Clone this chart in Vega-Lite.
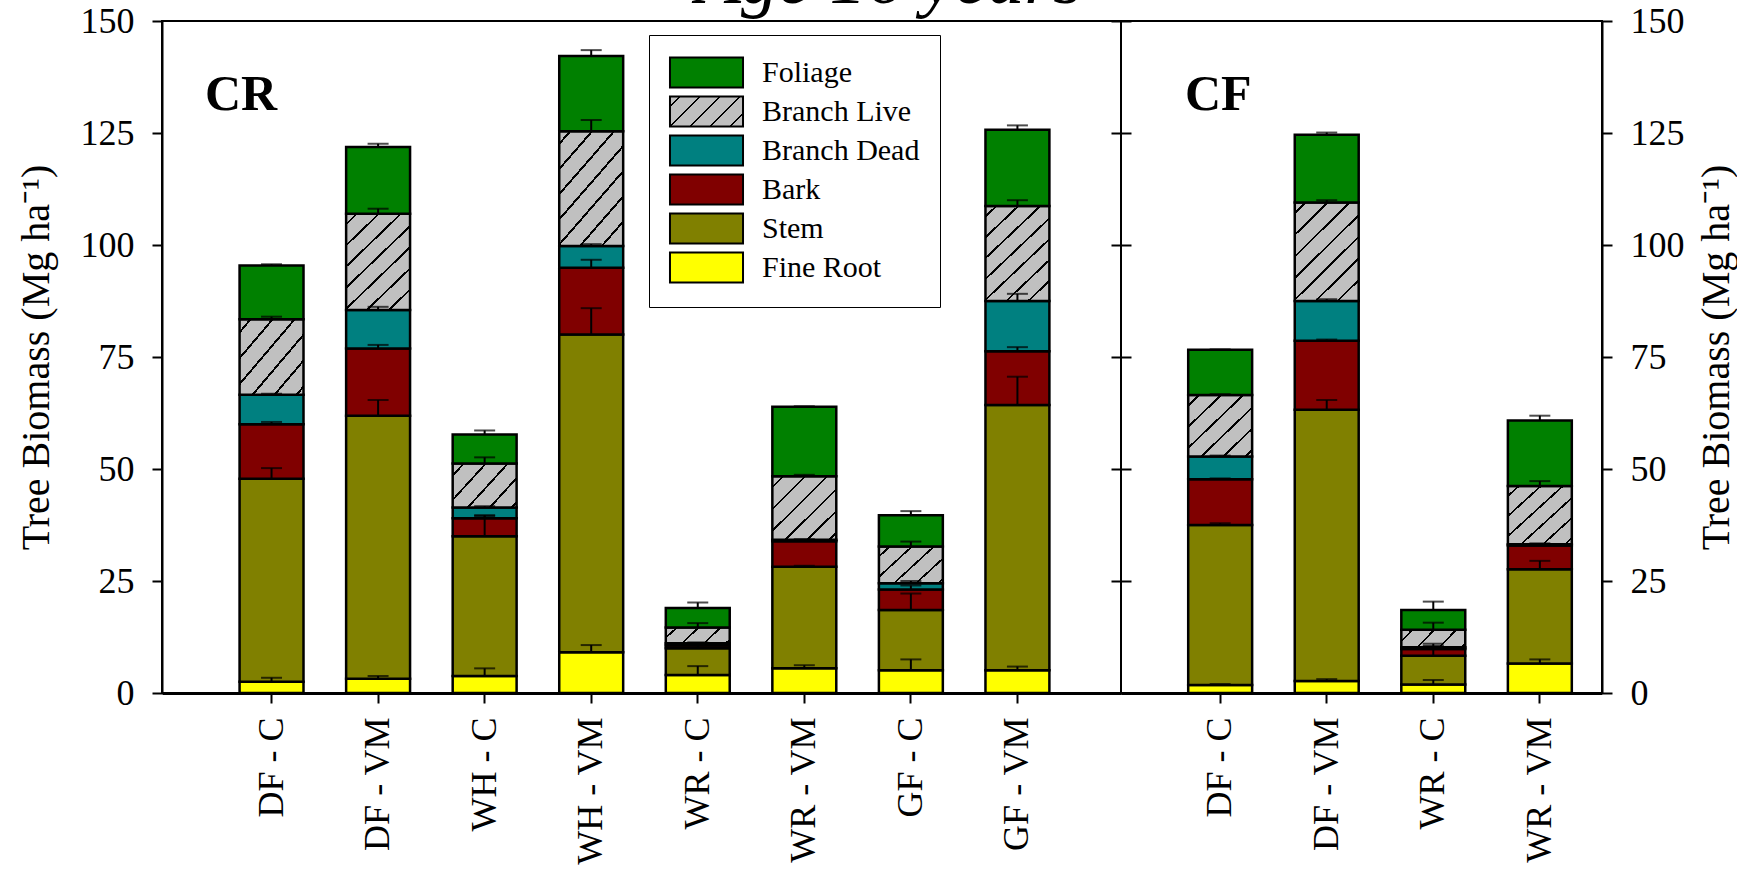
{
  "$schema": "https://vega.github.io/schema/vega-lite/v6.json",
  "padding": {"left": 15, "top": -56, "right": 0, "bottom": 0},
  "background": "white",
  "bounds": "flush",
  "spacing": 0,
  "title": {"text": "Age 16 years", "font": "Liberation Serif", "fontSize": 74, "fontStyle": "italic", "fontWeight": "normal", "color": "black", "anchor": "middle", "baseline": "alphabetic", "offset": -75, "dx": 13},
  "config": {
    "view": {"stroke": "black", "strokeWidth": 2},
    "axis": {"labelFont": "Liberation Serif", "titleFont": "Liberation Serif", "labelFontSize": 36, "titleFontSize": 40, "titleFontWeight": "normal", "labelColor": "black", "titleColor": "black", "tickColor": "black", "domainColor": "black", "tickWidth": 2, "domainWidth": 2, "tickSize": 10, "grid": false},
    "title": {"font": "Liberation Serif", "color": "black"}
  },
  "datasets": {
    "cr": [
      {"g": "DF - C", "part": "Fine Root", "lo": 0, "hi": 2.5, "err": 3.4},
      {"g": "DF - C", "part": "Stem", "lo": 2.5, "hi": 47.8, "err": 50.2},
      {"g": "DF - C", "part": "Bark", "lo": 47.8, "hi": 60.0, "err": 60.5},
      {"g": "DF - C", "part": "Branch Dead", "lo": 60.0, "hi": 66.6, "err": 66.8},
      {"g": "DF - C", "part": "Branch Live", "lo": 66.6, "hi": 83.4, "err": 84.0},
      {"g": "DF - C", "part": "Foliage", "lo": 83.4, "hi": 95.4, "err": 95.7},
      {"g": "DF - VM", "part": "Fine Root", "lo": 0, "hi": 3.2, "err": 3.8},
      {"g": "DF - VM", "part": "Stem", "lo": 3.2, "hi": 61.9, "err": 65.4},
      {"g": "DF - VM", "part": "Bark", "lo": 61.9, "hi": 76.9, "err": 77.7},
      {"g": "DF - VM", "part": "Branch Dead", "lo": 76.9, "hi": 85.5, "err": 86.2},
      {"g": "DF - VM", "part": "Branch Live", "lo": 85.5, "hi": 107.0, "err": 108.1},
      {"g": "DF - VM", "part": "Foliage", "lo": 107.0, "hi": 121.9, "err": 122.6},
      {"g": "WH - C", "part": "Fine Root", "lo": 0, "hi": 3.8, "err": 5.5},
      {"g": "WH - C", "part": "Stem", "lo": 3.8, "hi": 35.0, "err": 39.5},
      {"g": "WH - C", "part": "Bark", "lo": 35.0, "hi": 39.0, "err": 39.7},
      {"g": "WH - C", "part": "Branch Dead", "lo": 39.0, "hi": 41.4, "err": 41.7},
      {"g": "WH - C", "part": "Branch Live", "lo": 41.4, "hi": 51.2, "err": 52.6},
      {"g": "WH - C", "part": "Foliage", "lo": 51.2, "hi": 57.7, "err": 58.6},
      {"g": "WH - VM", "part": "Fine Root", "lo": 0, "hi": 9.1, "err": 10.7},
      {"g": "WH - VM", "part": "Stem", "lo": 9.1, "hi": 80.0, "err": 85.9},
      {"g": "WH - VM", "part": "Bark", "lo": 80.0, "hi": 94.9, "err": 96.7},
      {"g": "WH - VM", "part": "Branch Dead", "lo": 94.9, "hi": 99.8, "err": 100.2},
      {"g": "WH - VM", "part": "Branch Live", "lo": 99.8, "hi": 125.4, "err": 127.9},
      {"g": "WH - VM", "part": "Foliage", "lo": 125.4, "hi": 142.2, "err": 143.5},
      {"g": "WR - C", "part": "Fine Root", "lo": 0, "hi": 4.0, "err": 6.0},
      {"g": "WR - C", "part": "Stem", "lo": 4.0, "hi": 10.0, "err": 11.0},
      {"g": "WR - C", "part": "Bark", "lo": 10.0, "hi": 10.6, "err": 11.0},
      {"g": "WR - C", "part": "Branch Dead", "lo": 10.6, "hi": 11.1, "err": 11.3},
      {"g": "WR - C", "part": "Branch Live", "lo": 11.1, "hi": 14.6, "err": 15.6},
      {"g": "WR - C", "part": "Foliage", "lo": 14.6, "hi": 19.0, "err": 20.2},
      {"g": "WR - VM", "part": "Fine Root", "lo": 0, "hi": 5.5, "err": 6.2},
      {"g": "WR - VM", "part": "Stem", "lo": 5.5, "hi": 28.2, "err": 28.4},
      {"g": "WR - VM", "part": "Bark", "lo": 28.2, "hi": 33.9, "err": 34.2},
      {"g": "WR - VM", "part": "Branch Dead", "lo": 33.9, "hi": 34.2, "err": 34.3},
      {"g": "WR - VM", "part": "Branch Live", "lo": 34.2, "hi": 48.4, "err": 48.7},
      {"g": "WR - VM", "part": "Foliage", "lo": 48.4, "hi": 63.9, "err": 64.0},
      {"g": "GF - C", "part": "Fine Root", "lo": 0, "hi": 5.1, "err": 7.5},
      {"g": "GF - C", "part": "Stem", "lo": 5.1, "hi": 18.5, "err": 22.2},
      {"g": "GF - C", "part": "Bark", "lo": 18.5, "hi": 23.1, "err": 24.0},
      {"g": "GF - C", "part": "Branch Dead", "lo": 23.1, "hi": 24.5, "err": 25.0},
      {"g": "GF - C", "part": "Branch Live", "lo": 24.5, "hi": 32.7, "err": 33.8},
      {"g": "GF - C", "part": "Foliage", "lo": 32.7, "hi": 39.7, "err": 40.6},
      {"g": "GF - VM", "part": "Fine Root", "lo": 0, "hi": 5.1, "err": 5.9},
      {"g": "GF - VM", "part": "Stem", "lo": 5.1, "hi": 64.3, "err": 70.6},
      {"g": "GF - VM", "part": "Bark", "lo": 64.3, "hi": 76.3, "err": 77.2},
      {"g": "GF - VM", "part": "Branch Dead", "lo": 76.3, "hi": 87.5, "err": 89.1},
      {"g": "GF - VM", "part": "Branch Live", "lo": 87.5, "hi": 108.7, "err": 110.0},
      {"g": "GF - VM", "part": "Foliage", "lo": 108.7, "hi": 125.7, "err": 126.7}
    ],
    "cf": [
      {"g": "DF - C", "part": "Fine Root", "lo": 0, "hi": 1.8, "err": 2.0},
      {"g": "DF - C", "part": "Stem", "lo": 1.8, "hi": 37.5, "err": 37.9},
      {"g": "DF - C", "part": "Bark", "lo": 37.5, "hi": 47.7, "err": 47.9},
      {"g": "DF - C", "part": "Branch Dead", "lo": 47.7, "hi": 52.8, "err": 53.0},
      {"g": "DF - C", "part": "Branch Live", "lo": 52.8, "hi": 66.5, "err": 66.7},
      {"g": "DF - C", "part": "Foliage", "lo": 66.5, "hi": 76.6, "err": 76.7},
      {"g": "DF - VM", "part": "Fine Root", "lo": 0, "hi": 2.7, "err": 3.1},
      {"g": "DF - VM", "part": "Stem", "lo": 2.7, "hi": 63.2, "err": 65.4},
      {"g": "DF - VM", "part": "Bark", "lo": 63.2, "hi": 78.6, "err": 78.9},
      {"g": "DF - VM", "part": "Branch Dead", "lo": 78.6, "hi": 87.5, "err": 87.9},
      {"g": "DF - VM", "part": "Branch Live", "lo": 87.5, "hi": 109.5, "err": 110.0},
      {"g": "DF - VM", "part": "Foliage", "lo": 109.5, "hi": 124.6, "err": 125.1},
      {"g": "WR - C", "part": "Fine Root", "lo": 0, "hi": 1.9, "err": 2.9},
      {"g": "WR - C", "part": "Stem", "lo": 1.9, "hi": 8.3, "err": 11.0},
      {"g": "WR - C", "part": "Bark", "lo": 8.3, "hi": 9.8, "err": 10.3},
      {"g": "WR - C", "part": "Branch Dead", "lo": 9.8, "hi": 10.2, "err": 10.5},
      {"g": "WR - C", "part": "Branch Live", "lo": 10.2, "hi": 14.1, "err": 15.7},
      {"g": "WR - C", "part": "Foliage", "lo": 14.1, "hi": 18.5, "err": 20.4},
      {"g": "WR - VM", "part": "Fine Root", "lo": 0, "hi": 6.6, "err": 7.5},
      {"g": "WR - VM", "part": "Stem", "lo": 6.6, "hi": 27.6, "err": 29.5},
      {"g": "WR - VM", "part": "Bark", "lo": 27.6, "hi": 32.9, "err": 33.1},
      {"g": "WR - VM", "part": "Branch Dead", "lo": 32.9, "hi": 33.2, "err": 33.4},
      {"g": "WR - VM", "part": "Branch Live", "lo": 33.2, "hi": 46.2, "err": 47.3},
      {"g": "WR - VM", "part": "Foliage", "lo": 46.2, "hi": 60.8, "err": 61.9}
    ]
  },
  "resolve": {"scale": {"fill": "independent"}},
  "hconcat": [
    {
      "width": 959,
      "height": 672,
      "data": {"name": "cr"},
      "title": {"text": "CR", "anchor": "start", "frame": "group", "offset": -157, "dx": 43, "baseline": "alphabetic", "fontSize": 50, "fontWeight": "bold", "font": "Liberation Serif", "color": "black"},
      "resolve": {"axis": {"y": "independent"}},
      "layer": [
        {
          "mark": {"type": "bar", "stroke": "black", "strokeWidth": 2.5},
          "encoding": {
            "x": {"field": "g", "type": "nominal", "sort": null,
              "scale": {"domain": ["DF - C", "DF - VM", "WH - C", "WH - VM", "WR - C", "WR - VM", "GF - C", "GF - VM"], "paddingInner": 0.4, "paddingOuter": 0.7, "align": 0.52},
              "axis": {"title": null, "labelAngle": -90, "labelPadding": 14, "domainWidth": 3}},
            "y": {"field": "lo", "type": "quantitative", "scale": {"domain": [0, 150], "nice": false},
              "axis": {"orient": "left", "values": [0, 25, 50, 75, 100, 125, 150], "title": "Tree Biomass (Mg ha⁻¹)", "labelPadding": 18, "titlePadding": 24}},
            "y2": {"field": "hi"},
            "fill": {
              "condition": [
                {"test": "datum.part === 'Branch Live' && datum.hi - datum.lo >= 18", "value": {"gradient": "linear", "x1": 0, "y1": 0, "x2": 0.744, "y2": 1.163, "stops": [
                  {"offset": 0, "color": "#c0c0c0"},
                  {"offset": 0.059, "color": "#c0c0c0"}, {"offset": 0.059, "color": "#000000"}, {"offset": 0.075, "color": "#000000"}, {"offset": 0.075, "color": "#c0c0c0"},
                  {"offset": 0.193, "color": "#c0c0c0"}, {"offset": 0.193, "color": "#000000"}, {"offset": 0.209, "color": "#000000"}, {"offset": 0.209, "color": "#c0c0c0"},
                  {"offset": 0.327, "color": "#c0c0c0"}, {"offset": 0.327, "color": "#000000"}, {"offset": 0.343, "color": "#000000"}, {"offset": 0.343, "color": "#c0c0c0"},
                  {"offset": 0.461, "color": "#c0c0c0"}, {"offset": 0.461, "color": "#000000"}, {"offset": 0.477, "color": "#000000"}, {"offset": 0.477, "color": "#c0c0c0"},
                  {"offset": 0.595, "color": "#c0c0c0"}, {"offset": 0.595, "color": "#000000"}, {"offset": 0.611, "color": "#000000"}, {"offset": 0.611, "color": "#c0c0c0"},
                  {"offset": 0.729, "color": "#c0c0c0"}, {"offset": 0.729, "color": "#000000"}, {"offset": 0.745, "color": "#000000"}, {"offset": 0.745, "color": "#c0c0c0"},
                  {"offset": 0.863, "color": "#c0c0c0"}, {"offset": 0.863, "color": "#000000"}, {"offset": 0.879, "color": "#000000"}, {"offset": 0.879, "color": "#c0c0c0"},
                  {"offset": 1, "color": "#c0c0c0"}]}},
                {"test": "datum.part === 'Branch Live' && datum.hi - datum.lo >= 10", "value": {"gradient": "linear", "x1": 0, "y1": 0, "x2": 1, "y2": 1, "stops": [
                  {"offset": 0, "color": "#c0c0c0"},
                  {"offset": 0.076, "color": "#c0c0c0"}, {"offset": 0.076, "color": "#000000"}, {"offset": 0.096, "color": "#000000"}, {"offset": 0.096, "color": "#c0c0c0"},
                  {"offset": 0.248, "color": "#c0c0c0"}, {"offset": 0.248, "color": "#000000"}, {"offset": 0.268, "color": "#000000"}, {"offset": 0.268, "color": "#c0c0c0"},
                  {"offset": 0.420, "color": "#c0c0c0"}, {"offset": 0.420, "color": "#000000"}, {"offset": 0.440, "color": "#000000"}, {"offset": 0.440, "color": "#c0c0c0"},
                  {"offset": 0.592, "color": "#c0c0c0"}, {"offset": 0.592, "color": "#000000"}, {"offset": 0.612, "color": "#000000"}, {"offset": 0.612, "color": "#c0c0c0"},
                  {"offset": 0.764, "color": "#c0c0c0"}, {"offset": 0.764, "color": "#000000"}, {"offset": 0.784, "color": "#000000"}, {"offset": 0.784, "color": "#c0c0c0"},
                  {"offset": 0.936, "color": "#c0c0c0"}, {"offset": 0.936, "color": "#000000"}, {"offset": 0.956, "color": "#000000"}, {"offset": 0.956, "color": "#c0c0c0"},
                  {"offset": 1, "color": "#c0c0c0"}]}},
                {"test": "datum.part === 'Branch Live' && datum.hi - datum.lo >= 5", "value": {"gradient": "linear", "x1": 0, "y1": 0, "x2": 1.168, "y2": 0.730, "stops": [
                  {"offset": 0, "color": "#c0c0c0"},
                  {"offset": 0.094, "color": "#c0c0c0"}, {"offset": 0.094, "color": "#000000"}, {"offset": 0.118, "color": "#000000"}, {"offset": 0.118, "color": "#c0c0c0"},
                  {"offset": 0.306, "color": "#c0c0c0"}, {"offset": 0.306, "color": "#000000"}, {"offset": 0.330, "color": "#000000"}, {"offset": 0.330, "color": "#c0c0c0"},
                  {"offset": 0.518, "color": "#c0c0c0"}, {"offset": 0.518, "color": "#000000"}, {"offset": 0.542, "color": "#000000"}, {"offset": 0.542, "color": "#c0c0c0"},
                  {"offset": 0.730, "color": "#c0c0c0"}, {"offset": 0.730, "color": "#000000"}, {"offset": 0.754, "color": "#000000"}, {"offset": 0.754, "color": "#c0c0c0"},
                  {"offset": 0.942, "color": "#c0c0c0"}, {"offset": 0.942, "color": "#000000"}, {"offset": 0.966, "color": "#000000"}, {"offset": 0.966, "color": "#c0c0c0"},
                  {"offset": 1, "color": "#c0c0c0"}]}},
                {"test": "datum.part === 'Branch Live'", "value": {"gradient": "linear", "x1": 0, "y1": 0, "x2": 1.18, "y2": 0.311, "stops": [
                  {"offset": 0, "color": "#c0c0c0"},
                  {"offset": 0.121, "color": "#c0c0c0"}, {"offset": 0.121, "color": "#000000"}, {"offset": 0.151, "color": "#000000"}, {"offset": 0.151, "color": "#c0c0c0"},
                  {"offset": 0.393, "color": "#c0c0c0"}, {"offset": 0.393, "color": "#000000"}, {"offset": 0.423, "color": "#000000"}, {"offset": 0.423, "color": "#c0c0c0"},
                  {"offset": 0.665, "color": "#c0c0c0"}, {"offset": 0.665, "color": "#000000"}, {"offset": 0.695, "color": "#000000"}, {"offset": 0.695, "color": "#c0c0c0"},
                  {"offset": 0.937, "color": "#c0c0c0"}, {"offset": 0.937, "color": "#000000"}, {"offset": 0.967, "color": "#000000"}, {"offset": 0.967, "color": "#c0c0c0"},
                  {"offset": 1, "color": "#c0c0c0"}]}}
              ],
              "field": "part", "type": "nominal",
              "scale": {"domain": ["Fine Root", "Stem", "Bark", "Branch Dead", "Branch Live", "Foliage"],
                "range": ["#ffff00", "#808000", "#800000", "#008080",
                  {"expr": "{gradient: 'linear', x1: 0, y1: 0, x2: 1.208, y2: 0.497, stops: [{offset: 0, color: '#c0c0c0'}, {offset: 0.085, color: '#c0c0c0'}, {offset: 0.085, color: '#000000'}, {offset: 0.109, color: '#000000'}, {offset: 0.109, color: '#c0c0c0'}, {offset: 0.279, color: '#c0c0c0'}, {offset: 0.279, color: '#000000'}, {offset: 0.303, color: '#000000'}, {offset: 0.303, color: '#c0c0c0'}, {offset: 0.473, color: '#c0c0c0'}, {offset: 0.473, color: '#000000'}, {offset: 0.497, color: '#000000'}, {offset: 0.497, color: '#c0c0c0'}, {offset: 0.667, color: '#c0c0c0'}, {offset: 0.667, color: '#000000'}, {offset: 0.691, color: '#000000'}, {offset: 0.691, color: '#c0c0c0'}, {offset: 0.861, color: '#c0c0c0'}, {offset: 0.861, color: '#000000'}, {offset: 0.885, color: '#000000'}, {offset: 0.885, color: '#c0c0c0'}, {offset: 1, color: '#c0c0c0'}]}"},
                  "#008000"]},
              "legend": {"orient": "none", "legendX": 487, "legendY": 14, "title": null,
                "values": ["Foliage", "Branch Live", "Branch Dead", "Bark", "Stem", "Fine Root"],
                "symbolType": "M-2.24,-0.92H2.24V0.92H-2.24Z", "symbolSize": 1063, "symbolStrokeColor": "black", "symbolStrokeWidth": 2, "symbolOpacity": 1, "symbolOffset": 20,
                "labelFont": "Liberation Serif", "labelFontSize": 30, "labelColor": "black", "labelOffset": 38, "labelLimit": 400,
                "rowPadding": 0, "padding": 20, "strokeColor": "black"}}
          }
        },
        {
          "mark": {"type": "rule", "color": "black", "strokeWidth": 2},
          "encoding": {
            "x": {"field": "g", "type": "nominal", "sort": null},
            "y": {"field": "hi", "type": "quantitative", "scale": {"domain": [0, 150], "nice": false},
              "axis": {"orient": "right", "values": [0, 25, 50, 75, 100, 125, 150], "labels": false, "domain": false, "title": null}},
            "y2": {"field": "err"}
          }
        },
        {
          "mark": {"type": "tick", "color": "black", "size": 21, "thickness": 2},
          "encoding": {
            "x": {"field": "g", "type": "nominal", "sort": null},
            "y": {"field": "err", "type": "quantitative", "axis": null}
          }
        }
      ]
    },
    {
      "width": 481,
      "height": 672,
      "data": {"name": "cf"},
      "title": {"text": "CF", "anchor": "start", "frame": "group", "offset": -157, "dx": 64, "baseline": "alphabetic", "fontSize": 50, "fontWeight": "bold", "font": "Liberation Serif", "color": "black"},
      "resolve": {"axis": {"y": "independent"}},
      "layer": [
        {
          "mark": {"type": "bar", "stroke": "black", "strokeWidth": 2.5},
          "encoding": {
            "x": {"field": "g", "type": "nominal", "sort": null,
              "scale": {"domain": ["DF - C", "DF - VM", "WR - C", "WR - VM"], "paddingInner": 0.4, "paddingOuter": 0.457, "align": 0.69},
              "axis": {"title": null, "labelAngle": -90, "labelPadding": 14, "domainWidth": 3}},
            "y": {"field": "lo", "type": "quantitative", "scale": {"domain": [0, 150], "nice": false},
              "axis": {"orient": "left", "values": [0, 25, 50, 75, 100, 125, 150], "labels": false, "domain": false, "title": null}},
            "y2": {"field": "hi"},
            "fill": {
              "condition": [
                {"test": "datum.part === 'Branch Live' && datum.hi - datum.lo >= 18", "value": {"gradient": "linear", "x1": 0, "y1": 0, "x2": 0.744, "y2": 1.163, "stops": [
                  {"offset": 0, "color": "#c0c0c0"},
                  {"offset": 0.059, "color": "#c0c0c0"}, {"offset": 0.059, "color": "#000000"}, {"offset": 0.075, "color": "#000000"}, {"offset": 0.075, "color": "#c0c0c0"},
                  {"offset": 0.193, "color": "#c0c0c0"}, {"offset": 0.193, "color": "#000000"}, {"offset": 0.209, "color": "#000000"}, {"offset": 0.209, "color": "#c0c0c0"},
                  {"offset": 0.327, "color": "#c0c0c0"}, {"offset": 0.327, "color": "#000000"}, {"offset": 0.343, "color": "#000000"}, {"offset": 0.343, "color": "#c0c0c0"},
                  {"offset": 0.461, "color": "#c0c0c0"}, {"offset": 0.461, "color": "#000000"}, {"offset": 0.477, "color": "#000000"}, {"offset": 0.477, "color": "#c0c0c0"},
                  {"offset": 0.595, "color": "#c0c0c0"}, {"offset": 0.595, "color": "#000000"}, {"offset": 0.611, "color": "#000000"}, {"offset": 0.611, "color": "#c0c0c0"},
                  {"offset": 0.729, "color": "#c0c0c0"}, {"offset": 0.729, "color": "#000000"}, {"offset": 0.745, "color": "#000000"}, {"offset": 0.745, "color": "#c0c0c0"},
                  {"offset": 0.863, "color": "#c0c0c0"}, {"offset": 0.863, "color": "#000000"}, {"offset": 0.879, "color": "#000000"}, {"offset": 0.879, "color": "#c0c0c0"},
                  {"offset": 1, "color": "#c0c0c0"}]}},
                {"test": "datum.part === 'Branch Live' && datum.hi - datum.lo >= 10", "value": {"gradient": "linear", "x1": 0, "y1": 0, "x2": 1, "y2": 1, "stops": [
                  {"offset": 0, "color": "#c0c0c0"},
                  {"offset": 0.076, "color": "#c0c0c0"}, {"offset": 0.076, "color": "#000000"}, {"offset": 0.096, "color": "#000000"}, {"offset": 0.096, "color": "#c0c0c0"},
                  {"offset": 0.248, "color": "#c0c0c0"}, {"offset": 0.248, "color": "#000000"}, {"offset": 0.268, "color": "#000000"}, {"offset": 0.268, "color": "#c0c0c0"},
                  {"offset": 0.420, "color": "#c0c0c0"}, {"offset": 0.420, "color": "#000000"}, {"offset": 0.440, "color": "#000000"}, {"offset": 0.440, "color": "#c0c0c0"},
                  {"offset": 0.592, "color": "#c0c0c0"}, {"offset": 0.592, "color": "#000000"}, {"offset": 0.612, "color": "#000000"}, {"offset": 0.612, "color": "#c0c0c0"},
                  {"offset": 0.764, "color": "#c0c0c0"}, {"offset": 0.764, "color": "#000000"}, {"offset": 0.784, "color": "#000000"}, {"offset": 0.784, "color": "#c0c0c0"},
                  {"offset": 0.936, "color": "#c0c0c0"}, {"offset": 0.936, "color": "#000000"}, {"offset": 0.956, "color": "#000000"}, {"offset": 0.956, "color": "#c0c0c0"},
                  {"offset": 1, "color": "#c0c0c0"}]}},
                {"test": "datum.part === 'Branch Live' && datum.hi - datum.lo >= 5", "value": {"gradient": "linear", "x1": 0, "y1": 0, "x2": 1.168, "y2": 0.730, "stops": [
                  {"offset": 0, "color": "#c0c0c0"},
                  {"offset": 0.094, "color": "#c0c0c0"}, {"offset": 0.094, "color": "#000000"}, {"offset": 0.118, "color": "#000000"}, {"offset": 0.118, "color": "#c0c0c0"},
                  {"offset": 0.306, "color": "#c0c0c0"}, {"offset": 0.306, "color": "#000000"}, {"offset": 0.330, "color": "#000000"}, {"offset": 0.330, "color": "#c0c0c0"},
                  {"offset": 0.518, "color": "#c0c0c0"}, {"offset": 0.518, "color": "#000000"}, {"offset": 0.542, "color": "#000000"}, {"offset": 0.542, "color": "#c0c0c0"},
                  {"offset": 0.730, "color": "#c0c0c0"}, {"offset": 0.730, "color": "#000000"}, {"offset": 0.754, "color": "#000000"}, {"offset": 0.754, "color": "#c0c0c0"},
                  {"offset": 0.942, "color": "#c0c0c0"}, {"offset": 0.942, "color": "#000000"}, {"offset": 0.966, "color": "#000000"}, {"offset": 0.966, "color": "#c0c0c0"},
                  {"offset": 1, "color": "#c0c0c0"}]}},
                {"test": "datum.part === 'Branch Live'", "value": {"gradient": "linear", "x1": 0, "y1": 0, "x2": 1.18, "y2": 0.311, "stops": [
                  {"offset": 0, "color": "#c0c0c0"},
                  {"offset": 0.121, "color": "#c0c0c0"}, {"offset": 0.121, "color": "#000000"}, {"offset": 0.151, "color": "#000000"}, {"offset": 0.151, "color": "#c0c0c0"},
                  {"offset": 0.393, "color": "#c0c0c0"}, {"offset": 0.393, "color": "#000000"}, {"offset": 0.423, "color": "#000000"}, {"offset": 0.423, "color": "#c0c0c0"},
                  {"offset": 0.665, "color": "#c0c0c0"}, {"offset": 0.665, "color": "#000000"}, {"offset": 0.695, "color": "#000000"}, {"offset": 0.695, "color": "#c0c0c0"},
                  {"offset": 0.937, "color": "#c0c0c0"}, {"offset": 0.937, "color": "#000000"}, {"offset": 0.967, "color": "#000000"}, {"offset": 0.967, "color": "#c0c0c0"},
                  {"offset": 1, "color": "#c0c0c0"}]}}
              ],
              "field": "part", "type": "nominal",
              "scale": {"domain": ["Fine Root", "Stem", "Bark", "Branch Dead", "Branch Live", "Foliage"],
                "range": ["#ffff00", "#808000", "#800000", "#008080", "#c0c0c0", "#008000"]},
              "legend": null}
          }
        },
        {
          "mark": {"type": "rule", "color": "black", "strokeWidth": 2},
          "encoding": {
            "x": {"field": "g", "type": "nominal", "sort": null},
            "y": {"field": "hi", "type": "quantitative", "scale": {"domain": [0, 150], "nice": false},
              "axis": {"orient": "right", "values": [0, 25, 50, 75, 100, 125, 150], "title": "Tree Biomass (Mg ha⁻¹)", "titleAngle": 270, "titleBaseline": "top", "labelPadding": 18, "titlePadding": 12}},
            "y2": {"field": "err"}
          }
        },
        {
          "mark": {"type": "tick", "color": "black", "size": 21, "thickness": 2},
          "encoding": {
            "x": {"field": "g", "type": "nominal", "sort": null},
            "y": {"field": "err", "type": "quantitative", "axis": null}
          }
        }
      ]
    }
  ]
}
